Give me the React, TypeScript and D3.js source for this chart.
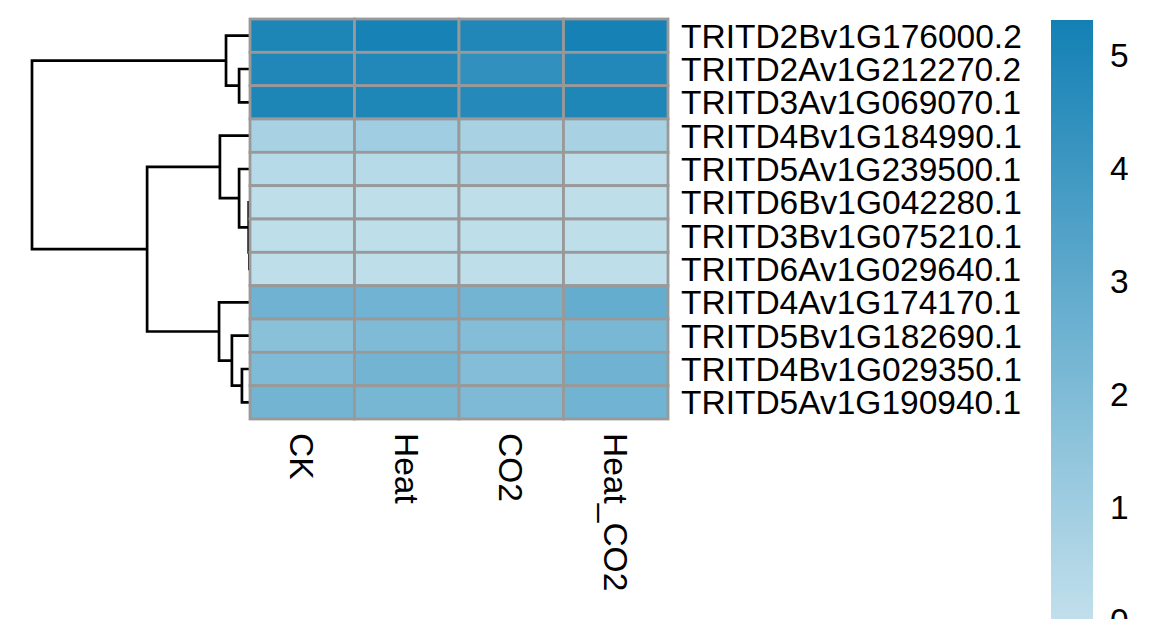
import React from "react";
import * as d3 from "d3";

const rowNames = [
  "TRITD2Bv1G176000.2",
  "TRITD2Av1G212270.2",
  "TRITD3Av1G069070.1",
  "TRITD4Bv1G184990.1",
  "TRITD5Av1G239500.1",
  "TRITD6Bv1G042280.1",
  "TRITD3Bv1G075210.1",
  "TRITD6Av1G029640.1",
  "TRITD4Av1G174170.1",
  "TRITD5Bv1G182690.1",
  "TRITD4Bv1G029350.1",
  "TRITD5Av1G190940.1",
];
const columns = ["CK", "Heat", "CO2", "Heat_CO2"];
const valuesCK = [5.0, 4.9, 5.0, 0.75, 0.3, 0.08, 0.08, 0.08, 2.5, 1.7, 2.0, 2.4];
const valuesHeat = [5.2, 4.85, 4.95, 1.0, 0.3, 0.08, 0.08, 0.08, 2.45, 2.0, 2.4, 2.25];
const valuesCO2 = [4.9, 4.4, 4.75, 0.75, 0.55, 0.08, 0.08, 0.08, 2.4, 1.9, 1.9, 2.05];
const valuesHeatCO2 = [5.25, 4.85, 4.95, 0.75, 0.1, 0.08, 0.08, 0.08, 2.8, 2.2, 2.5, 2.45];
const legendTicks = [0, 1, 2, 3, 4, 5];
const colorMax = 5.31;

// hierarchical clustering merges: "L#" = leaf (row index), "N#" = earlier merge
const mergeLeft = ["L6", "L5", "L4", "L3", "L1", "L0", "L10", "L9", "L8", "N3", "N5"];
const mergeRight = ["L7", "N0", "N1", "N2", "L2", "N4", "L11", "N6", "N7", "N8", "N9"];
const mergeHeight = [0.03, 0.06, 0.5, 1.38, 0.5, 1.1, 0.37, 0.83, 1.42, 4.72, 10];

const W = 1170;
const H = 619;
const FONT = "'Liberation Sans', Arial, Helvetica, sans-serif";
const FS = 33.5;

export default function App() {
  const matrix = [valuesCK, valuesHeat, valuesCO2, valuesHeatCO2];
  const x = d3.scaleBand<string>().domain(columns).range([250, 668]).padding(0);
  const y = d3.scaleBand<string>().domain(rowNames).range([19, 419]).padding(0);
  const color = d3
    .scaleLinear<string>()
    .domain([0, colorMax])
    .range(["#C1DFEB", "#1380B4"])
    .interpolate(d3.interpolateRgb);
  const hx = d3.scaleLinear().domain([0, 10]).range([250, 32]);
  const ly = d3.scaleLinear().domain([0, colorMax]).range([620, 20]);

  // dendrogram
  const nodePos: { y: number; h: number }[] = [];
  const ref = (r: string) => {
    const i = +r.slice(1);
    if (r[0] === "L") {
      return { y: (y(rowNames[i]) as number) + y.bandwidth() / 2, h: 0 };
    }
    return nodePos[i];
  };
  const segs: string[] = [];
  mergeHeight.forEach((h, i) => {
    const a = ref(mergeLeft[i]);
    const b = ref(mergeRight[i]);
    const xn = hx(h);
    segs.push(`M${hx(a.h)},${a.y}H${xn}V${b.y}H${hx(b.h)}`);
    nodePos.push({ y: (a.y + b.y) / 2, h });
  });

  const gradStops = d3.range(0, 11).map((k) => k / 10);

  return (
    <svg
      width={W}
      height={H}
      style={{ position: "absolute", left: 0, top: 0, background: "#fff" }}
      fontFamily={FONT}
    >
      <defs>
        <linearGradient id="lg" x1="0" y1="1" x2="0" y2="0">
          {gradStops.map((t) => (
            <stop key={t} offset={t} stopColor={color(t * colorMax)} />
          ))}
        </linearGradient>
      </defs>
      <rect width={W} height={H} fill="#fff" />
      <g fill="none" stroke="#000" strokeWidth={2.7}>
        {segs.map((d, i) => (
          <path key={i} d={d} />
        ))}
      </g>
      <g>
        {columns.map((c, ci) =>
          rowNames.map((r, ri) => (
            <rect
              key={c + r}
              x={x(c)}
              y={y(r)}
              width={x.bandwidth()}
              height={y.bandwidth()}
              fill={color(matrix[ci][ri])}
              stroke="#999999"
              strokeWidth={2.8}
            />
          ))
        )}
      </g>
      <g fontSize={FS} fill="#000">
        {rowNames.map((r) => (
          <text key={r} x={681} y={(y(r) as number) + y.bandwidth() / 2} dy="0.36em">
            {r}
          </text>
        ))}
        {columns.map((c) => (
          <text
            key={c}
            transform={`translate(${(x(c) as number) + x.bandwidth() / 2},433) rotate(90)`}
            dy="0.36em"
          >
            {c}
          </text>
        ))}
      </g>
      <rect x={1051} y={ly(colorMax)} width={42} height={ly(0) - ly(colorMax)} fill="url(#lg)" />
      <g fontSize={FS} fill="#000">
        {legendTicks.map((t) => (
          <text key={t} x={1110} y={ly(t)} dy="0.36em">
            {t}
          </text>
        ))}
      </g>
    </svg>
  );
}
